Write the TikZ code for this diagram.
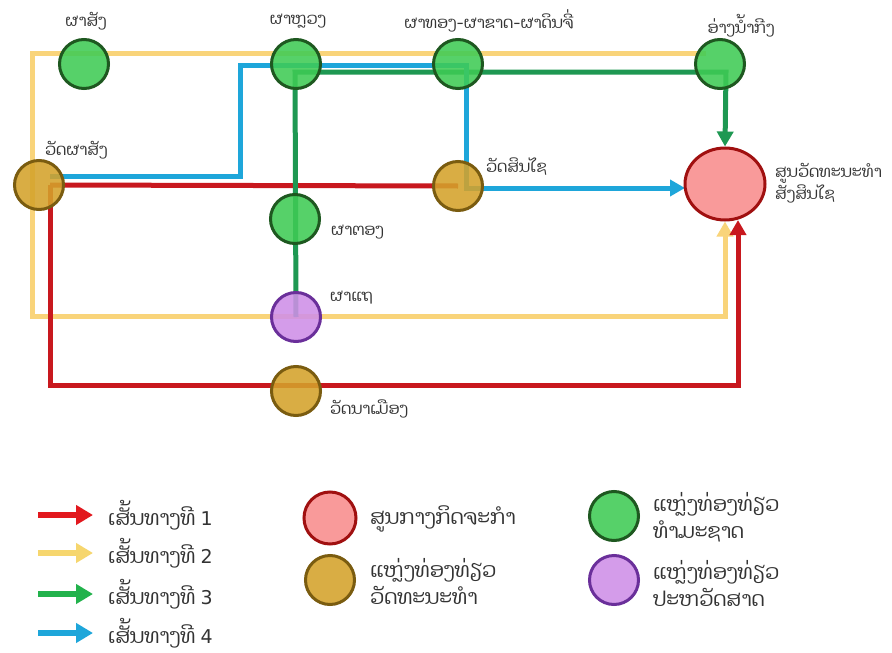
\documentclass[tikz,border=0pt]{standalone}
\usepackage{fontspec}
\setmainfont{DejaVu Sans}
\newfontfamily\lao[Script=Lao]{Dhyana}
\usetikzlibrary{arrows.meta,shapes.geometric}
\pgfdeclarelayer{bg}
\pgfsetlayers{bg,main}
\definecolor{rRed}{RGB}{200,24,30}
\definecolor{rYel}{RGB}{249,212,122}
\definecolor{rGrn}{RGB}{30,152,82}
\definecolor{rBlu}{RGB}{30,166,218}
\definecolor{lRed}{RGB}{226,24,30}
\definecolor{lYel}{RGB}{246,214,110}
\definecolor{lGrn}{RGB}{34,178,76}
\definecolor{grnF}{RGB}{63,203,85}
\definecolor{grnD}{RGB}{30,88,32}
\definecolor{golF}{RGB}{212,162,43}
\definecolor{golD}{RGB}{122,92,16}
\definecolor{purF}{RGB}{207,143,232}
\definecolor{purD}{RGB}{106,47,154}
\definecolor{hubF}{RGB}{249,146,146}
\definecolor{hubD}{RGB}{160,16,16}
\tikzset{
  spot/.style={circle, minimum size=49pt, line width=3pt, inner sep=0pt, fill opacity=0.88},
  natspot/.style={spot, draw=grnD, fill=grnF},
  culspot/.style={spot, draw=golD, fill=golF},
  hisspot/.style={spot, draw=purD, fill=purF},
  hubspot/.style={ellipse, minimum width=80pt, minimum height=72pt, line width=3pt, inner sep=0pt, draw=hubD, fill=hubF, fill opacity=0.92},
  lbl/.style={font=\lao\fontsize{16}{20}\selectfont, inner sep=0pt, text=black!80},
  leg/.style={font=\lao\fontsize{20.5}{27}\selectfont, inner sep=0pt, text=black!80, align=left},
  route/.style={line width=5pt},
  tip/.style={-{Triangle[length=15pt,width=16pt]}},
  r1/.style={route, draw=rRed},
  r2/.style={route, draw=rYel},
  r3/.style={route, draw=rGrn},
  r4/.style={route, draw=rBlu},
  legarrow/.style={line width=6pt, -{Triangle[length=17pt,width=19pt]}}
}
\begin{document}
\begin{tikzpicture}[x=1pt,y=-1pt]
\begin{pgfonlayer}{bg}
\fill[white] (0,0) rectangle (892,653);
\end{pgfonlayer}
\useasboundingbox (0,0) rectangle (892,653);
% places
\node[natspot] (psang) at (84,64) {};
\node[natspot] (pluang) at (296,64) {};
\node[natspot] (pthong) at (458,64) {};
\node[natspot] (angnam) at (720,64) {};
\node[culspot] (wps) at (39,185) {};
\node[culspot] (wsx) at (458,186) {};
\node[natspot] (ptong) at (295,219) {};
\node[hisspot] (pthae) at (296,317) {};
\node[culspot] (wnm) at (296,391) {};
\node[hubspot] (hub) at (725,184) {};
% labels
\node[lbl] (lpsang) at (86,21) {ຜາສັງ};
\node[lbl] (lpluang) at (298,21) {ຜາຫຼວງ};
\node[lbl] (lpthong) at (489,21) {ຜາທອງ-ຜາຂາດ-ຜາດິນຈີ່};
\node[lbl] (langnam) at (741,26) {ອ່າງນ້ຳກີງ};
\node[lbl,anchor=west] (lwps) at (45,150) {ວັດຜາສັງ};
\node[lbl,anchor=west] (lwsx) at (486,167) {ວັດສິນໄຊ};
\node[lbl,anchor=west] (lptong) at (331,232) {ຜາຕອງ};
\node[lbl,anchor=west] (lpthae) at (330,298) {ຜາແຖ};
\node[lbl,anchor=west] (lwnm) at (330,409) {ວັດນາເມືອງ};
\node[lbl,anchor=west,align=left] (lhub) at (775,183) {ສູນວັດທະນະທຳ\\ສັງສິນໄຊ};
% route corners
\coordinate (r1a) at (50,185);
\coordinate (r1b) at (50,385);
\coordinate (r1c) at (738,385);
\coordinate (r1d) at (738,220);
\coordinate (r2a) at (706,53);
\coordinate (r2b) at (32,53);
\coordinate (r2c) at (32,316);
\coordinate (r2d) at (725,316);
\coordinate (r3a) at (295,72);
\coordinate (r3b) at (726,72);
\coordinate (r4a) at (50,176);
\coordinate (r4b) at (240,176);
\coordinate (r4c) at (240,65);
\coordinate (r4d) at (466,65);
\coordinate (r4e) at (466,188);
\coordinate (r4f) at (685,188);
\begin{pgfonlayer}{bg}
\draw[r2, tip] (r2a) -- (r2b) -- (r2c) -- (r2d) -- (hub.south);
\draw[r1] (wsx.center) -- (r1a);
\draw[r1, tip] (r1a) -- (r1b) -- (r1c) -- (r1d);
\draw[r3, tip] (pthae.center) -- (r3a) -- (r3b) -- (hub.north);
\draw[r4, tip] (r4a) -- (r4b) -- (r4c) -- (r4d) -- (r4e) -- (r4f);
\end{pgfonlayer}
% legend: routes
\node[leg,anchor=west] (t1) at (108,515) {ເສັ້ນທາງທີ {\fontspec{DejaVu Sans}\fontsize{19}{24}\selectfont 1}};
\node[leg,anchor=west] (t2) at (108,553) {ເສັ້ນທາງທີ {\fontspec{DejaVu Sans}\fontsize{19}{24}\selectfont 2}};
\node[leg,anchor=west] (t3) at (108,594) {ເສັ້ນທາງທີ {\fontspec{DejaVu Sans}\fontsize{19}{24}\selectfont 3}};
\node[leg,anchor=west] (t4) at (108,633) {ເສັ້ນທາງທີ {\fontspec{DejaVu Sans}\fontsize{19}{24}\selectfont 4}};
\coordinate (a1) at (38,515); \coordinate (b1) at (93,515);
\coordinate (a2) at (38,553); \coordinate (b2) at (93,553);
\coordinate (a3) at (38,594); \coordinate (b3) at (93,594);
\coordinate (a4) at (38,633); \coordinate (b4) at (93,633);
\draw[legarrow, draw=lRed, fill=lRed] (a1) -- (b1);
\draw[legarrow, draw=lYel, fill=lYel] (a2) -- (b2);
\draw[legarrow, draw=lGrn, fill=lGrn] (a3) -- (b3);
\draw[legarrow, draw=rBlu, fill=rBlu] (a4) -- (b4);
% legend: places
\node[hubspot, ellipse, minimum width=52pt, minimum height=52pt] (khub) at (330,518) {};
\node[culspot] (kcul) at (330,580) {};
\node[natspot] (knat) at (614,516) {};
\node[hisspot] (khis) at (614,580) {};
\node[leg,anchor=west] (thub) at (370,519) {ສູນກາງກິດຈະກຳ};
\node[leg,anchor=west] (tcul) at (370,581) {ແຫຼ່ງທ່ອງທ່ຽວ\\ວັດທະນະທຳ};
\node[leg,anchor=west] (tnat) at (653,517) {ແຫຼ່ງທ່ອງທ່ຽວ\\ທຳມະຊາດ};
\node[leg,anchor=west] (this) at (653,583) {ແຫຼ່ງທ່ອງທ່ຽວ\\ປະຫວັດສາດ};
\end{tikzpicture}
\end{document}
